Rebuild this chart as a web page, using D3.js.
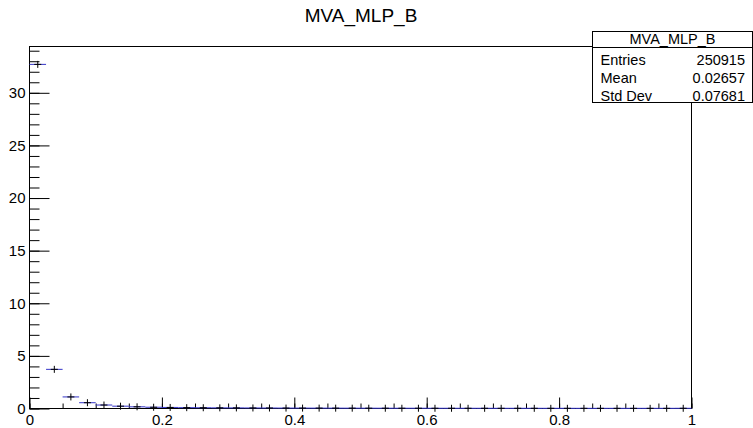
<!DOCTYPE html>
<html>
<head>
<meta charset="utf-8">
<script src="https://cdn.jsdelivr.net/npm/d3@7"></script>
<style>
  body { margin: 0; background: #fff; }
  svg { display: block; font-family: "Liberation Sans", Arial, sans-serif; }
</style>
</head>
<body>
<div id="chart"></div>
<script>
// histogram MVA_MLP_B, 40 bins on [0,1], normalised to unit area
let binEdges = d3.range(0, 41).map(function (i) { return i / 40; });
let binValues = [32.7, 3.72, 1.10, 0.55, 0.33, 0.22, 0.16, 0.12, 0.10, 0.08,
    0.07, 0.06, 0.055, 0.05, 0.045, 0.04, 0.038, 0.035, 0.032, 0.03,
    0.028, 0.026, 0.025, 0.024, 0.022, 0.021, 0.02, 0.02, 0.019, 0.018,
    0.018, 0.017, 0.017, 0.016, 0.016, 0.016, 0.015, 0.015, 0.016, 0.02];
let xTicks = [0, 0.2, 0.4, 0.6, 0.8, 1];
let xMinorTicks = d3.range(0, 21).map(function (i) { return i * 0.05; });
let yTicks = [0, 5, 10, 15, 20, 25, 30];
let yMinorTicks = d3.range(0, 35);
let statsLabels = ["Entries", "Mean", "Std Dev"];
let statsValues = ["250915", "0.02657", "0.07681"];
let histName = "MVA_MLP_B";

let width = 753, height = 428;
let frame = {left: 29.5, right: 691.5, top: 46.5, bottom: 408.5};

let svg = d3.select("#chart").append("svg")
    .attr("width", width)
    .attr("height", height);

let x = d3.scaleLinear().domain([0, 1]).range([frame.left, frame.right]);
let y = d3.scaleLinear().domain([0, 34.4]).range([frame.bottom, frame.top]);

// frame
svg.append("rect")
    .attr("x", frame.left).attr("y", frame.top)
    .attr("width", frame.right - frame.left)
    .attr("height", frame.bottom - frame.top)
    .attr("fill", "none").attr("stroke", "#000").attr("stroke-width", 1);

// y axis, ticks pointing inside
svg.append("g")
    .attr("transform", "translate(" + frame.left + ",0)")
    .call(d3.axisLeft(y).tickValues(yMinorTicks).tickSize(-10).tickFormat(function () { return ""; }))
    .call(function (g) { g.select(".domain").remove(); });
svg.append("g")
    .attr("transform", "translate(" + frame.left + ",0)")
    .call(d3.axisLeft(y).tickValues(yTicks).tickSize(-20).tickPadding(4))
    .call(function (g) { g.select(".domain").remove(); })
    .selectAll("text")
    .attr("font-size", 15).attr("font-family", "Liberation Sans, Arial, sans-serif").attr("fill", "#000");

// x axis
svg.append("g")
    .attr("transform", "translate(0," + frame.bottom + ")")
    .call(d3.axisBottom(x).tickValues(xMinorTicks).tickSize(-5).tickFormat(function () { return ""; }))
    .call(function (g) { g.select(".domain").remove(); });
svg.append("g")
    .attr("transform", "translate(0," + frame.bottom + ")")
    .call(d3.axisBottom(x).tickValues(xTicks).tickSize(-11).tickPadding(6).tickFormat(d3.format("~g")))
    .call(function (g) { g.select(".domain").remove(); })
    .selectAll("text")
    .attr("font-size", 15).attr("font-family", "Liberation Sans, Arial, sans-serif").attr("fill", "#000");

// histogram points: bin-width line + marker
let bins = binValues.map(function (v, i) {
    return {x0: binEdges[i], x1: binEdges[i + 1], v: v};
});
let pts = svg.append("g");
pts.selectAll("line.bw")
    .data(bins).enter().append("line")
    .attr("class", "bw")
    .attr("x1", function (d) { return x(d.x0); })
    .attr("x2", function (d) { return x(d.x1); })
    .attr("y1", function (d) { return y(d.v); })
    .attr("y2", function (d) { return y(d.v); })
    .attr("stroke", "#3434c8").attr("stroke-width", 1);
pts.selectAll("line.mv")
    .data(bins).enter().append("line")
    .attr("class", "mv")
    .attr("x1", function (d) { return x((d.x0 + d.x1) / 2); })
    .attr("x2", function (d) { return x((d.x0 + d.x1) / 2); })
    .attr("y1", function (d) { return y(d.v) - 3.5; })
    .attr("y2", function (d) { return y(d.v) + 3.5; })
    .attr("stroke", "#000").attr("stroke-width", 1);
pts.selectAll("line.mh")
    .data(bins).enter().append("line")
    .attr("class", "mh")
    .attr("x1", function (d) { return x((d.x0 + d.x1) / 2) - 3.5; })
    .attr("x2", function (d) { return x((d.x0 + d.x1) / 2) + 3.5; })
    .attr("y1", function (d) { return y(d.v); })
    .attr("y2", function (d) { return y(d.v); })
    .attr("stroke", "#000").attr("stroke-width", 1);

// title
svg.append("text")
    .attr("x", 361).attr("y", 21.5)
    .attr("text-anchor", "middle")
    .attr("font-size", 19)
    .text(histName);

// stats box
let box = {left: 592.5, right: 752.5, top: 31.5, mid: 47.5, bottom: 102.5};
svg.append("rect")
    .attr("x", box.left).attr("y", box.top)
    .attr("width", box.right - box.left).attr("height", box.bottom - box.top)
    .attr("fill", "#fff").attr("stroke", "#000").attr("stroke-width", 1);
svg.append("line")
    .attr("x1", box.left).attr("x2", box.right)
    .attr("y1", box.mid).attr("y2", box.mid)
    .attr("stroke", "#000");
svg.append("text")
    .attr("x", (box.left + box.right) / 2).attr("y", 43.5)
    .attr("text-anchor", "middle").attr("font-size", 14.5)
    .text(histName);
statsLabels.forEach(function (lab, i) {
    svg.append("text")
        .attr("x", 600.5).attr("y", 65 + i * 18)
        .attr("font-size", 14.5)
        .text(lab);
    svg.append("text")
        .attr("x", 745).attr("y", 65 + i * 18)
        .attr("text-anchor", "end").attr("font-size", 14.5)
        .text(statsValues[i]);
});
</script>
</body>
</html>
